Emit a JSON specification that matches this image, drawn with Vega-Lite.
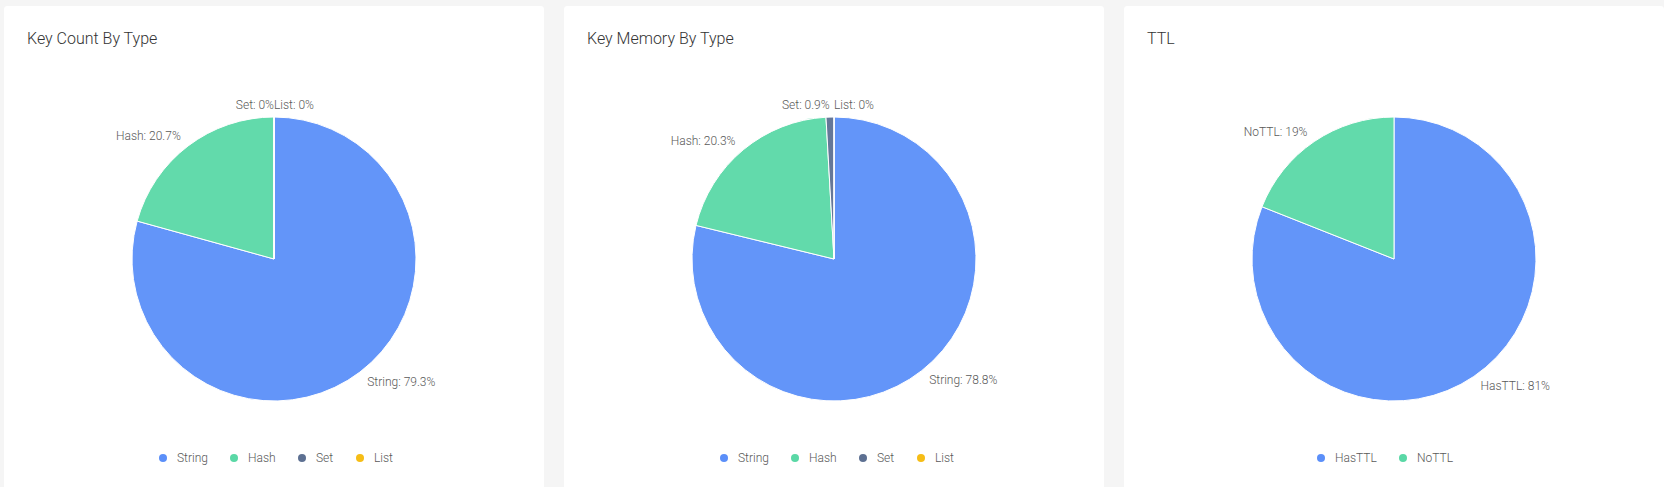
{
  "$schema": "https://vega.github.io/schema/vega-lite/v6.json",
  "background": "#f5f5f5",
  "padding": {"left": 4, "top": 6, "right": 0, "bottom": 0},
  "autosize": {"type": "pad"},
  "spacing": 20,
  "config": {
    "view": {"fill": "#ffffff", "stroke": "#ffffff", "strokeWidth": 0, "cornerRadius": 3},
    "font": "Roboto",
    "title": {"anchor": "start", "offset": 0, "dx": 23, "dy": 45, "baseline": "alphabetic", "fontSize": 16, "fontWeight": 300, "color": "#333333", "font": "Roboto"},
    "legend": {"orient": "none", "direction": "horizontal", "title": null, "symbolType": "circle", "symbolSize": 64, "symbolStrokeWidth": 0, "labelFontSize": 12, "labelColor": "#595959", "labelFont": "Roboto", "labelFontWeight": 300, "columnPadding": 20, "labelOffset": 8, "padding": 0}
  },
  "resolve": {"scale": {"color": "independent", "theta": "independent"}, "legend": {"color": "independent"}},
  "hconcat": [
    {
      "width": 540, "height": 506,
      "view": {"fill": "#ffffff", "stroke": "#ffffff", "strokeWidth": 0, "cornerRadius": 3},
      "title": {"text": "Key Count By Type"},
      "data": {"values": [
        {"type": "String", "value": 79.3, "i": 1, "label": "String: 79.3%"},
        {"type": "Hash", "value": 20.7, "i": 2, "label": "Hash: 20.7%"},
        {"type": "Set", "value": 0, "i": 3, "label": "Set: 0%"},
        {"type": "List", "value": 0, "i": 4, "label": "List: 0%"}
      ]},
      "encoding": {
        "theta": {"field": "value", "type": "quantitative", "stack": true},
        "order": {"field": "i", "type": "quantitative"}
      },
      "layer": [
        {"mark": {"type": "arc", "outerRadius": 142, "stroke": "white", "strokeWidth": 1, "fillOpacity": 0.95},
         "encoding": {"color": {"field": "type", "type": "nominal", "sort": ["String", "Hash", "Set", "List"],
           "scale": {"domain": ["String", "Hash", "Set", "List"], "range": ["#5B8FF9", "#5AD8A6", "#5D7092", "#F6BD16"]},
           "legend": {"legendX": 153, "legendY": 446}}}},
        {"mark": {"type": "text", "radius": 154, "align": "right", "baseline": "middle", "fontSize": 12, "fill": "#595959", "font": "Roboto", "fontWeight": 300},
         "encoding": {"detail": {"field": "type", "type": "nominal"},
           "text": {"condition": {"test": "indexof(['Hash','Set','NoTTL'], datum.type) >= 0", "field": "label", "type": "nominal"}, "value": ""}}},
        {"mark": {"type": "text", "radius": 154, "align": "left", "baseline": "middle", "fontSize": 12, "fill": "#595959", "font": "Roboto", "fontWeight": 300},
         "encoding": {"detail": {"field": "type", "type": "nominal"},
           "text": {"condition": {"test": "indexof(['Hash','Set','NoTTL'], datum.type) < 0", "field": "label", "type": "nominal"}, "value": ""}}}
      ]
    },
    {
      "width": 540, "height": 506,
      "view": {"fill": "#ffffff", "stroke": "#ffffff", "strokeWidth": 0, "cornerRadius": 3},
      "title": {"text": "Key Memory By Type"},
      "data": {"values": [
        {"type": "String", "value": 78.8, "i": 1, "label": "String: 78.8%"},
        {"type": "Hash", "value": 20.3, "i": 2, "label": "Hash: 20.3%"},
        {"type": "Set", "value": 0.9, "i": 3, "label": "Set: 0.9%"},
        {"type": "List", "value": 0, "i": 4, "label": "List: 0%"}
      ]},
      "encoding": {
        "theta": {"field": "value", "type": "quantitative", "stack": true},
        "order": {"field": "i", "type": "quantitative"}
      },
      "layer": [
        {"mark": {"type": "arc", "outerRadius": 142, "stroke": "white", "strokeWidth": 1, "fillOpacity": 0.95},
         "encoding": {"color": {"field": "type", "type": "nominal", "sort": ["String", "Hash", "Set", "List"],
           "scale": {"domain": ["String", "Hash", "Set", "List"], "range": ["#5B8FF9", "#5AD8A6", "#5D7092", "#F6BD16"]},
           "legend": {"legendX": 154, "legendY": 446}}}},
        {"mark": {"type": "text", "radius": 154, "align": "right", "baseline": "middle", "fontSize": 12, "fill": "#595959", "font": "Roboto", "fontWeight": 300},
         "encoding": {"detail": {"field": "type", "type": "nominal"},
           "text": {"condition": {"test": "indexof(['Hash','Set','NoTTL'], datum.type) >= 0", "field": "label", "type": "nominal"}, "value": ""}}},
        {"mark": {"type": "text", "radius": 154, "align": "left", "baseline": "middle", "fontSize": 12, "fill": "#595959", "font": "Roboto", "fontWeight": 300},
         "encoding": {"detail": {"field": "type", "type": "nominal"},
           "text": {"condition": {"test": "indexof(['Hash','Set','NoTTL'], datum.type) < 0", "field": "label", "type": "nominal"}, "value": ""}}}
      ]
    },
    {
      "width": 540, "height": 506,
      "view": {"fill": "#ffffff", "stroke": "#ffffff", "strokeWidth": 0, "cornerRadius": 3},
      "title": {"text": "TTL"},
      "data": {"values": [
        {"type": "HasTTL", "value": 81, "i": 1, "label": "HasTTL: 81%"},
        {"type": "NoTTL", "value": 19, "i": 2, "label": "NoTTL: 19%"}
      ]},
      "encoding": {
        "theta": {"field": "value", "type": "quantitative", "stack": true},
        "order": {"field": "i", "type": "quantitative"}
      },
      "layer": [
        {"mark": {"type": "arc", "outerRadius": 142, "stroke": "white", "strokeWidth": 1, "fillOpacity": 0.95},
         "encoding": {"color": {"field": "type", "type": "nominal", "sort": ["HasTTL", "NoTTL"],
           "scale": {"domain": ["HasTTL", "NoTTL"], "range": ["#5B8FF9", "#5AD8A6"]},
           "legend": {"legendX": 191, "legendY": 446}}}},
        {"mark": {"type": "text", "radius": 154, "align": "right", "baseline": "middle", "fontSize": 12, "fill": "#595959", "font": "Roboto", "fontWeight": 300},
         "encoding": {"detail": {"field": "type", "type": "nominal"},
           "text": {"condition": {"test": "indexof(['Hash','Set','NoTTL'], datum.type) >= 0", "field": "label", "type": "nominal"}, "value": ""}}},
        {"mark": {"type": "text", "radius": 154, "align": "left", "baseline": "middle", "fontSize": 12, "fill": "#595959", "font": "Roboto", "fontWeight": 300},
         "encoding": {"detail": {"field": "type", "type": "nominal"},
           "text": {"condition": {"test": "indexof(['Hash','Set','NoTTL'], datum.type) < 0", "field": "label", "type": "nominal"}, "value": ""}}}
      ]
    }
  ]
}
